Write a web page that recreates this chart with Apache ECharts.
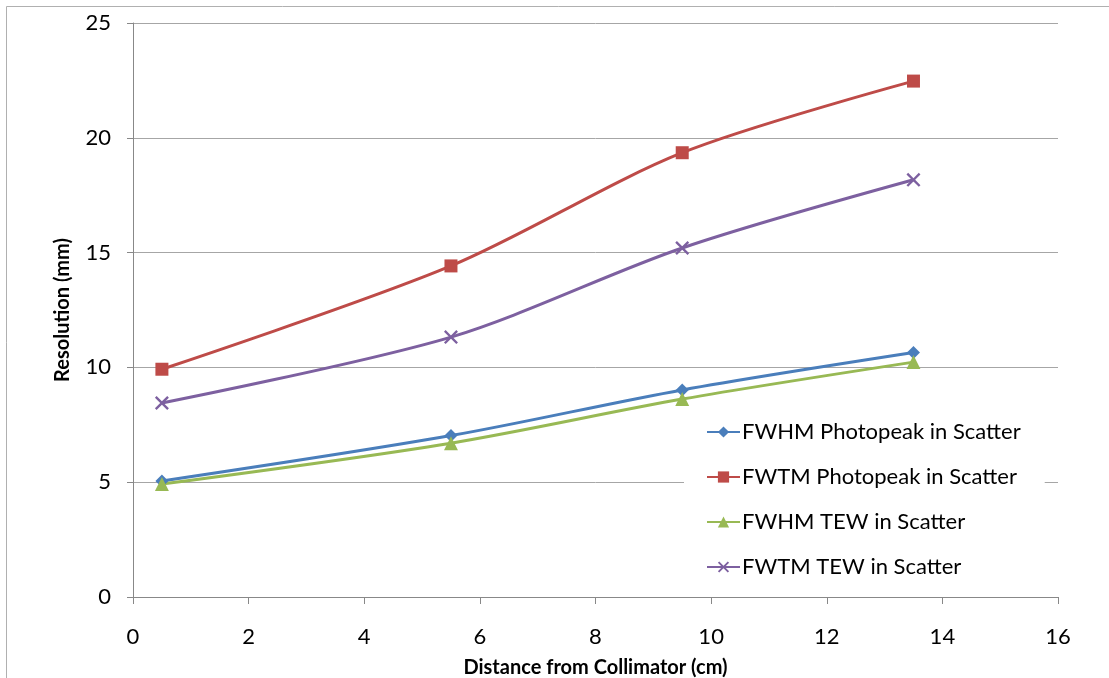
<!DOCTYPE html>
<html>
<head>
<meta charset="utf-8">
<script src="https://cdn.jsdelivr.net/npm/echarts@6/dist/echarts.min.js"></script>
<style>
html,body{margin:0;padding:0;background:#fff;overflow:hidden;}
#chart{width:1109px;height:678px;}
</style>
</head>
<body>
<div id="chart"></div>
<script>
const distances = [0.5, 5.5, 9.5, 13.5];
const fwhmPhotopeak = [5.05, 7.03, 9.02, 10.65];
const fwtmPhotopeak = [9.92, 14.42, 19.35, 22.47];
const fwhmTEW = [4.92, 6.7, 8.62, 10.23];
const fwtmTEW = [8.45, 11.32, 15.2, 18.17];
const seriesNames = ['FWHM Photopeak in Scatter', 'FWTM Photopeak in Scatter', 'FWHM TEW in Scatter', 'FWTM TEW in Scatter'];
const xTitle = 'Distance from Collimator (cm)';
const yTitle = 'Resolution (mm)';

const FONT = 'Lato, "Open Sans", sans-serif';
const pair = arr => distances.map((d, i) => [d, arr[i]]);
const xPath = 'path://M0,1.2L1.2,0L5,3.8L8.8,0L10,1.2L6.2,5L10,8.8L8.8,10L5,6.2L1.2,10L0,8.8L3.8,5Z';

const colors = ['#4A7EBB', '#BE4B48', '#98B954', '#7D60A0'];
const symbols = ['diamond', 'rect', 'triangle', xPath];
const sizes = [13, 13, 14, 14];
const datasets = [fwhmPhotopeak, fwtmPhotopeak, fwhmTEW, fwtmTEW];

const chart = echarts.init(document.getElementById('chart'));
chart.setOption({
  animation: false,
  backgroundColor: '#fff',
  graphic: [{
    type: 'rect', shape: {x: 6.5, y: 6.5, width: 1200, height: 800},
    style: {fill: 'none', stroke: '#b0b0b0', lineWidth: 1}, z: -10
  }],
  grid: {left: 133, width: 925, top: 23, height: 574, containLabel: false, outerBoundsMode: 'none'},
  xAxis: {
    type: 'value', min: 0, max: 16, interval: 2,
    name: xTitle, nameLocation: 'middle', nameGap: 61,
    nameTextStyle: {fontFamily: FONT, fontWeight: 'bold', fontSize: 20, color: '#000'},
    axisLine: {show: true, lineStyle: {color: '#888', width: 1}},
    axisTick: {show: true, length: 7, inside: false, lineStyle: {color: '#888'}},
    axisLabel: {fontFamily: FONT, fontSize: 22, color: '#000', margin: 29},
    splitLine: {show: false}
  },
  yAxis: {
    type: 'value', min: 0, max: 25, interval: 5,
    name: yTitle, nameLocation: 'middle', nameGap: 60, nameRotate: 90,
    nameTextStyle: {fontFamily: FONT, fontWeight: 'bold', fontSize: 20, color: '#000'},
    axisLine: {show: true, lineStyle: {color: '#888', width: 1}},
    axisTick: {show: true, length: 6, lineStyle: {color: '#888'}},
    axisLabel: {fontFamily: FONT, fontSize: 22, color: '#000', margin: 22},
    splitLine: {show: true, lineStyle: {color: '#a6a6a6', width: 1}}
  },
  legend: {
    orient: 'vertical', left: 684, top: 409,
    padding: [10, 24, 10, 22],
    backgroundColor: '#fff',
    itemWidth: 33, itemHeight: 14, itemGap: 19,
    textStyle: {fontFamily: FONT, fontSize: 22, color: '#000', lineHeight: 26, padding: [0, 0, 0, -3]},
    data: seriesNames
  },
  series: datasets.map((arr, i) => ({
    name: seriesNames[i],
    type: 'line',
    data: pair(arr),
    smooth: 0.3,
    symbol: symbols[i],
    symbolSize: sizes[i],
    lineStyle: {color: colors[i], width: 3},
    itemStyle: {color: colors[i]},
    z: 5
  }))
});
</script>
</body>
</html>
